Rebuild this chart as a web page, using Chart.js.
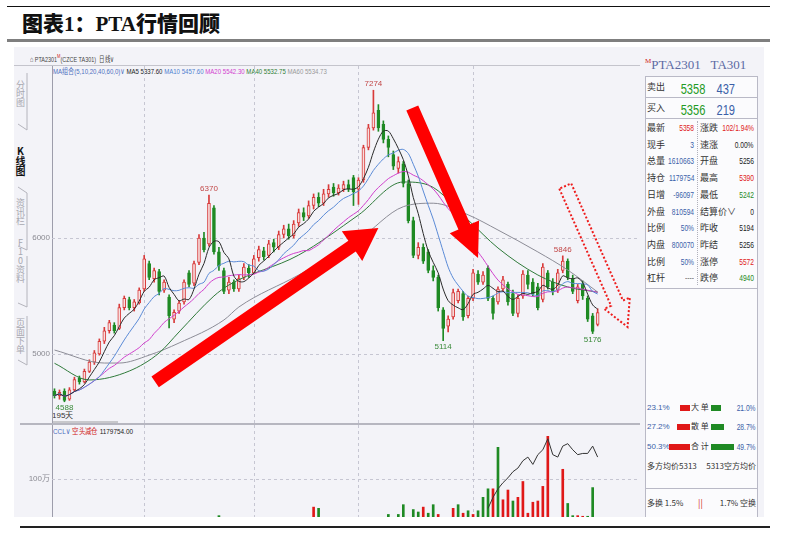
<!DOCTYPE html>
<html lang="zh-CN">
<head>
<meta charset="utf-8">
<title>图表1：PTA行情回顾</title>
<script src="https://cdn.jsdelivr.net/npm/chart.js@4.4.1/dist/chart.umd.min.js"></script>
<style>
  body { margin: 0; width: 799px; height: 546px; background: #fff; position: relative; overflow: hidden;
         font-family: "Noto Sans CJK SC", "Noto Sans", sans-serif; color: #333; }
  .a { position: absolute; white-space: nowrap; line-height: 1; }
  .num { font-family: "Liberation Sans", "DejaVu Sans", sans-serif; }
  .vt { writing-mode: vertical-rl; text-orientation: upright; font-size: 9px; color: #a8a8b0; }
  canvas { position: absolute; }
</style>
</head>
<body>
<!-- 标题栏 -->
<div class="a" style="left:7px;top:6px;width:763px;height:1px;background:#111"></div>
<div class="a" style="left:22px;top:12px;font-size:21px;font-weight:900;color:#111">图表<span style="font-family:'Liberation Serif'">1</span>：<span style="font-family:'Liberation Serif'">PTA</span>行情回顾</div>
<div class="a" style="left:7px;top:39px;width:763px;height:3px;background:#7f7f7f"></div>

<!-- 行情软件截图 -->
<div class="a" style="left:14px;top:47px;width:750px;height:470px;background:#f3f3f8"></div>
<div class="a" style="left:645px;top:76px;width:111px;height:441px;background:#fbfbfd;border-left:1px solid #b9b9c6;border-right:1px solid #b9b9c6"></div>
<div class="a" style="left:14px;top:65px;width:626px;height:1px;background:#c4c4cc"></div>
<div class="a" style="left:20px;top:423px;width:620px;height:2px;background:#b6b6c0"></div>
<div class="a" style="left:53px;top:421px;width:65px;height:2px;background:#c8c8cc"></div>

<!-- 左侧标签 -->
<svg class="a" style="left:0;top:0" width="40" height="420">
  <g stroke="#b4b4bc" stroke-width="1" fill="none">
    <polyline points="27,73 27,130 18,124"/>
    <polyline points="18,187 27,193 27,250 18,246"/>
    <polyline points="27,256 27,307 18,303"/>
    <polyline points="27,316 27,365 18,360"/>
  </g>
</svg>
<div class="a vt" style="left:16px;top:80px">分时图</div>
<div class="a vt" style="left:15px;top:146px;font-size:10px;color:#111;font-weight:700">K线图</div>
<div class="a vt" style="left:16px;top:198px">资讯栏</div>
<div class="a vt" style="left:16px;top:238px">F10资料</div>
<div class="a vt" style="left:16px;top:318px">页面下单</div>

<!-- 顶部工具栏与均线说明 -->
<div class="a num" id="toolbar" style="left:30px;top:53px;font-size:8px;color:#444">⌂ PTA2301<sup style="color:#d02020;font-size:6px">M</sup>(CZCE TA301)&nbsp; 日线∨</div>
<div class="a num" id="maLegend" style="left:53px;top:68px;font-size:8px">
  <span style="color:#4d6fc0">MA组合(5,10,20,40,60,0)∨</span>
  <span style="color:#222">MA5 5337.60</span>
  <span style="color:#4d7fd0">MA10 5457.60</span>
  <span style="color:#d23ccf">MA20 5542.30</span>
  <span style="color:#2e7d32">MA40 5532.75</span>
  <span style="color:#999">MA60 5534.73</span>
</div>
<div class="a num" id="cclLegend" style="left:53px;top:428px;font-size:8px">
  <span style="color:#4d6fc0">CCL∨</span>
  <span style="color:#d02020">空头减仓</span>
  <span style="color:#222">1179754.00</span>
</div>
<div class="a num" style="left:52px;top:412px;font-size:8px;color:#333">195天</div>

<canvas id="priceChart" width="620" height="357" style="left:20px;top:66px"></canvas>
<canvas id="oiChart" width="620" height="92" style="left:20px;top:425px"></canvas>

<!-- 右侧报价面板 -->
<div id="quote"></div>

<!-- 底线 -->
<div class="a" style="left:20px;top:526px;width:750px;height:2px;background:#222"></div>

<script>
// K线数据：开、高、低、收（逐日读取）
const opens = [4680, 4640, 4680, 4610, 4690, 4790, 4760, 4850, 4930, 5000,
  5110, 5200, 5250, 5220, 5400, 5470, 5400, 5440, 5560, 5780,
  5650, 5710, 5550, 5490, 5300, 5370, 5450, 5700, 5610, 5790,
  6000, 5950, 6260, 5880, 5720, 5550, 5620, 5560, 5660, 5740,
  5700, 5830, 5890, 5850, 5960, 5920, 6030, 6080, 6020, 6130,
  6220, 6190, 6280, 6350, 6300, 6380, 6440, 6390, 6420, 6460,
  6520, 6420, 6500, 6780, 6950, 7100, 6980, 6850, 6720, 6600,
  6640, 6470, 6150, 5850, 5920, 5880, 5720, 5660, 5380, 5240,
  5320, 5460, 5520, 5330, 5480, 5690, 5620, 5740, 5480, 5450,
  5560, 5600, 5520, 5350, 5500, 5680, 5620, 5580, 5470, 5700,
  5620, 5550, 5720, 5800, 5650, 5460, 5600, 5480, 5330, 5256];
const highs = [4700, 4690, 4700, 4710, 4800, 4810, 4870, 4950, 5030, 5130,
  5230, 5290, 5270, 5430, 5500, 5490, 5470, 5570, 5850, 5800,
  5740, 5730, 5640, 5510, 5380, 5460, 5640, 5720, 5800, 6030,
  6050, 6370, 6280, 5920, 5740, 5660, 5640, 5680, 5780, 5770,
  5850, 5930, 5920, 5980, 5990, 6060, 6110, 6120, 6150, 6250,
  6260, 6320, 6380, 6390, 6420, 6460, 6470, 6460, 6490, 6500,
  6540, 6520, 6800, 6980, 7274, 7150, 7010, 6880, 6750, 6700,
  6660, 6500, 6180, 5960, 5950, 5900, 5760, 5680, 5400, 5330,
  5560, 5560, 5540, 5500, 5730, 5720, 5710, 5760, 5500, 5580,
  5670, 5620, 5550, 5510, 5720, 5720, 5650, 5610, 5780, 5720,
  5650, 5730, 5846, 5820, 5680, 5600, 5630, 5500, 5350, 5390];
const lows = [4620, 4610, 4588, 4600, 4680, 4740, 4750, 4840, 4910, 4990,
  5090, 5180, 5180, 5210, 5380, 5380, 5370, 5430, 5540, 5640,
  5620, 5510, 5530, 5224, 5270, 5350, 5430, 5580, 5590, 5770,
  5880, 5930, 5860, 5720, 5520, 5520, 5540, 5540, 5640, 5660,
  5690, 5800, 5810, 5830, 5880, 5900, 6000, 5990, 6000, 6100,
  6150, 6170, 6250, 6270, 6280, 6350, 6360, 6370, 6400, 6400,
  6280, 6290, 6480, 6760, 6930, 6920, 6820, 6700, 6590, 6560,
  6440, 6130, 5830, 5820, 5780, 5700, 5630, 5370, 5114, 5190,
  5300, 5440, 5290, 5310, 5460, 5600, 5600, 5460, 5300, 5430,
  5540, 5420, 5330, 5320, 5480, 5560, 5500, 5380, 5450, 5560,
  5510, 5530, 5700, 5640, 5520, 5440, 5470, 5280, 5176, 5242];
const closes = [4640, 4670, 4600, 4690, 4780, 4760, 4850, 4930, 5010, 5110,
  5200, 5270, 5200, 5400, 5480, 5400, 5450, 5550, 5820, 5660,
  5720, 5540, 5620, 5330, 5360, 5440, 5620, 5600, 5780, 6000,
  5900, 6300, 5880, 5760, 5540, 5620, 5560, 5650, 5750, 5700,
  5820, 5900, 5840, 5950, 5920, 6030, 6080, 6020, 6120, 6220,
  6180, 6280, 6350, 6300, 6380, 6420, 6390, 6430, 6460, 6420,
  6400, 6500, 6780, 6950, 7080, 6950, 6850, 6780, 6620, 6660,
  6470, 6150, 5850, 5920, 5800, 5720, 5660, 5400, 5220, 5300,
  5530, 5540, 5320, 5480, 5700, 5620, 5680, 5480, 5350, 5560,
  5640, 5450, 5350, 5480, 5690, 5600, 5520, 5400, 5750, 5580,
  5540, 5700, 5800, 5660, 5540, 5580, 5500, 5300, 5194, 5358];

// 长周期均线：按图上读到的位置（K线序号 → 价格）
const ma40Idx = [0, 7, 15, 21, 25, 32, 35, 49, 61, 70, 75, 83, 89, 97, 103, 109];
const ma40Val = [4920, 4776, 4853, 5009, 5190, 5500, 5595, 5853, 6198, 6483, 6457, 6155, 5914, 5681, 5578, 5533];
const ma60Idx = [0, 10, 13, 19, 25, 34, 37, 49, 61, 70, 76, 83, 89, 97, 103, 109];
const ma60Val = [5034, 4922, 4922, 4990, 5095, 5293, 5405, 5681, 5983, 6270, 6300, 6200, 6069, 5880, 5724, 5534];

// 下方副图：柱（万手）与持仓线，只记录截图中露出的部分
const volRedIdx = [52, 74, 77, 80, 82, 84, 88, 90, 91, 93, 94, 95, 96, 97, 98, 99, 102, 105, 106];
const volRedVal = [77, 77, 71, 76, 72, 71, 92, 83, 91, 85, 98, 72, 81, 82, 94, 135, 108, 70, 69.5];
const volGreenIdx = [33, 53, 67, 69, 70, 72, 73, 75, 76, 81, 83, 85, 86, 87, 89, 92, 103, 104, 107, 108];
const volGreenVal = [70, 76, 71, 71, 79, 75, 73, 72, 79, 79, 74, 74, 85, 92, 126, 82, 80, 70, 69.5, 93];
const oiIdx = [87, 88, 89, 90, 91, 92, 93, 94, 95, 96, 97, 98, 99, 100, 101, 102, 103, 104, 105, 106, 107, 108, 109];
const oiVal = [76, 85, 92, 97, 101, 106, 109, 115, 118, 112, 120, 124, 133, 120, 118, 127, 129, 124, 120, 121, 121, 127, 118];

// 坐标刻度
const priceTicks = [5000, 6000];
const oiTicks = [100];
const monthBreaks = [18, 40, 61, 84];
const peakIdx = [31, 64, 102];
const troughIdx = [2, 78, 108];

const SLOT_COUNT = 118;
const slots = Array.from({ length: SLOT_COUNT }, (_, i) => i);

// 均线计算（前期不足周期时按已有K线平均）
function movingAvg(src, n) {
    return src.map((_, i) => {
        const part = src.slice(Math.max(0, i - n + 1), i + 1);
        return part.reduce((s, v) => s + v, 0) / part.length;
    });
}

function sparseSeries(idx, val, len) {
    const out = new Array(len).fill(null);
    idx.forEach((k, j) => { out[k] = val[j]; });
    return out;
}

const UP_LINE = '#d83a3a', UP_FILL = '#f7dede', DOWN = '#1f8a24';
const isUp = closes.map((c, i) => c >= opens[i]);

// 虚线网格
const dashGrid = {
    id: 'dashGrid',
    beforeDatasetsDraw(chart, args, opts) {
        const { ctx, chartArea: a, scales: { x, y } } = chart;
        ctx.save();
        ctx.strokeStyle = '#c6c6d2';
        ctx.lineWidth = 1;
        ctx.setLineDash([3, 3]);
        (opts.yValues || []).forEach(v => {
            const py = Math.round(y.getPixelForValue(v)) + 0.5;
            ctx.beginPath(); ctx.moveTo(a.left, py); ctx.lineTo(a.right, py); ctx.stroke();
        });
        (opts.xValues || []).forEach(v => {
            const px = Math.round(x.getPixelForValue(v)) + 0.5;
            ctx.beginPath(); ctx.moveTo(px, a.top); ctx.lineTo(px, a.bottom); ctx.stroke();
        });
        ctx.restore();
    }
};

function arrowPath(ctx, x0, y0, x1, y1, half, headLen, headHalf) {
    const len = Math.hypot(x1 - x0, y1 - y0);
    const ux = (x1 - x0) / len, uy = (y1 - y0) / len;
    const px = -uy, py = ux;
    const bx = x1 - ux * headLen, by = y1 - uy * headLen;
    ctx.beginPath();
    ctx.moveTo(x0 + px * half, y0 + py * half);
    ctx.lineTo(bx + px * half, by + py * half);
    ctx.lineTo(bx + px * headHalf, by + py * headHalf);
    ctx.lineTo(x1, y1);
    ctx.lineTo(bx - px * headHalf, by - py * headHalf);
    ctx.lineTo(bx - px * half, by - py * half);
    ctx.lineTo(x0 - px * half, y0 - py * half);
    ctx.closePath();
}

// 最高/最低价标注与趋势箭头
const klineMarks = {
    id: 'klineMarks',
    afterDatasetsDraw(chart, args, opts) {
        const { ctx, scales: { x, y } } = chart;
        ctx.save();
        ctx.font = '8px "Liberation Sans", sans-serif';
        ctx.textAlign = 'center';
        ctx.fillStyle = '#c24848';
        ctx.textBaseline = 'bottom';
        peakIdx.forEach(i => ctx.fillText(String(highs[i]), x.getPixelForValue(i), y.getPixelForValue(highs[i]) - 2));
        ctx.fillStyle = '#3a8a3a';
        ctx.textBaseline = 'top';
        troughIdx.forEach(i => ctx.fillText(String(lows[i]), x.getPixelForValue(i), y.getPixelForValue(lows[i]) + 2));

        opts.arrows.forEach(ar => {
            const x0 = x.getPixelForValue(ar.from[0]), y0 = y.getPixelForValue(ar.from[1]);
            const x1 = x.getPixelForValue(ar.to[0]), y1 = y.getPixelForValue(ar.to[1]);
            arrowPath(ctx, x0, y0, x1, y1, 6.5, ar.headLen, ar.headHalf);
            if (ar.dotted) {
                ctx.setLineDash([2, 2]);
                ctx.lineWidth = 2;
                ctx.strokeStyle = '#ee1c1c';
                ctx.stroke();
                ctx.setLineDash([]);
            } else {
                ctx.fillStyle = '#ff0000';
                ctx.fill();
            }
        });
        ctx.restore();
    }
};

function yAxis(min, max, ticks, fmt) {
    return {
        min: min, max: max,
        grid: { display: false, drawTicks: false },
        border: { display: true, color: '#9d9dab', width: 1 },
        afterBuildTicks: s => { s.ticks = ticks.map(v => ({ value: v })); },
        afterFit: s => { s.width = 32; s.paddingTop = 0; s.paddingBottom = 0; },
        ticks: { color: '#8a8a92', padding: 2, font: { size: 8, family: 'Liberation Sans' }, callback: fmt }
    };
}

// 主图：K线 + 均线
new Chart(document.getElementById('priceChart'), {
    type: 'bar',
    data: {
        labels: slots,
        datasets: [
            { label: 'MA5', type: 'line', data: movingAvg(closes, 5), borderColor: '#2a2a2a', borderWidth: 1, pointRadius: 0, tension: 0.3, order: 1 },
            { label: 'MA10', type: 'line', data: movingAvg(closes, 10), borderColor: '#5a8ad6', borderWidth: 1, pointRadius: 0, tension: 0.3, order: 1 },
            { label: 'MA20', type: 'line', data: movingAvg(closes, 20), borderColor: '#d040cc', borderWidth: 1, pointRadius: 0, tension: 0.3, order: 1 },
            { label: 'MA40', type: 'line', data: sparseSeries(ma40Idx, ma40Val, closes.length), spanGaps: true, cubicInterpolationMode: 'monotone', borderColor: '#2f7a3a', borderWidth: 1, pointRadius: 0, order: 1 },
            { label: 'MA60', type: 'line', data: sparseSeries(ma60Idx, ma60Val, closes.length), spanGaps: true, cubicInterpolationMode: 'monotone', borderColor: '#8c8c96', borderWidth: 1, pointRadius: 0, order: 1 },
            { label: 'body', data: opens.map((o, i) => [o, closes[i]]),
              backgroundColor: isUp.map(u => u ? UP_FILL : DOWN), borderColor: isUp.map(u => u ? UP_LINE : DOWN),
              borderWidth: 1, borderSkipped: false, barThickness: 3, grouped: false, order: 2 },
            { label: 'wick', data: lows.map((l, i) => [l, highs[i]]),
              backgroundColor: isUp.map(u => u ? UP_LINE : DOWN), barThickness: 1, grouped: false, order: 3 }
        ]
    },
    options: {
        responsive: false, animation: false, devicePixelRatio: 1,
        layout: { padding: 0 },
        plugins: {
            legend: { display: false }, tooltip: { enabled: false },
            dashGrid: { yValues: priceTicks, xValues: monthBreaks },
            klineMarks: {
                arrows: [
                    { from: [20.2, 4759], to: [65, 6086], headLen: 32, headHalf: 18 },
                    { from: [71.8, 7121], to: [85, 5828], headLen: 34, headHalf: 16 },
                    { from: [102.5, 6448], to: [115, 5233], headLen: 26, headHalf: 14, dotted: true }
                ]
            }
        },
        scales: {
            x: { display: false, offset: true },
            y: yAxis(4405, 7483, priceTicks, v => String(v))
        }
    },
    plugins: [dashGrid, klineMarks]
});

// 副图：CCL 柱与持仓线
new Chart(document.getElementById('oiChart'), {
    type: 'bar',
    data: {
        labels: slots,
        datasets: [
            { label: '持仓', type: 'line', data: sparseSeries(oiIdx, oiVal, closes.length), borderColor: '#333', borderWidth: 1, pointRadius: 0, tension: 0, order: 1 },
            { label: '增', data: sparseSeries(volRedIdx, volRedVal, closes.length), backgroundColor: '#e01818', barThickness: 2, grouped: false, order: 2 },
            { label: '减', data: sparseSeries(volGreenIdx, volGreenVal, closes.length), backgroundColor: '#1f8a24', barThickness: 2, grouped: false, order: 2 }
        ]
    },
    options: {
        responsive: false, animation: false, devicePixelRatio: 1,
        layout: { padding: 0 },
        plugins: { legend: { display: false }, tooltip: { enabled: false }, dashGrid: { yValues: oiTicks, xValues: monthBreaks } },
        scales: {
            x: { display: false, offset: true },
            y: yAxis(68.9, 144.3, oiTicks, v => v + '万')
        }
    },
    plugins: [dashGrid]
});

// 文字压窄到截图中的宽度
function squeeze(id, w) {
    const el = document.getElementById(id);
    const k = w / el.getBoundingClientRect().width;
    el.style.transformOrigin = 'left top';
    el.style.transform = 'scaleX(' + k.toFixed(3) + ')';
}
squeeze('maLegend', 274);
squeeze('cclLegend', 80);
squeeze('toolbar', 84);

// 右侧报价面板
const quoteRows = [
    ['最新', '5358', '#e02020', '涨跌', '102/1.94%', '#e02020'],
    ['现手', '3', '#3a5fa8', '速涨', '0.00%', '#222'],
    ['总量', '1610663', '#3a5fa8', '开盘', '5256', '#222'],
    ['持仓', '1179754', '#3a5fa8', '最高', '5390', '#e02020'],
    ['日增', '-96097', '#3a5fa8', '最低', '5242', '#1f8a24'],
    ['外盘', '810594', '#3a5fa8', '结算价∨', '0', '#222'],
    ['比例', '50%', '#3a5fa8', '昨收', '5194', '#222'],
    ['内盘', '800070', '#3a5fa8', '昨结', '5256', '#222'],
    ['比例', '50%', '#3a5fa8', '涨停', '5572', '#e02020'],
    ['杠杆', '----', '#666', '跌停', '4940', '#1f8a24']
];

function put(html, style) {
    const d = document.createElement('div');
    d.className = 'a';
    d.style.cssText = style;
    d.innerHTML = html;
    document.getElementById('quote').appendChild(d);
    return d;
}
function numRight(txt, right, top, size, color) {
    put(txt, `right:${799 - right}px;top:${top}px;font-size:${size}px;color:${color};font-family:'Liberation Sans';transform:scaleX(.74);transform-origin:right center;`);
}

put('<span style="color:#d02020;font-size:7px;vertical-align:top">M</span>PTA2301&nbsp;&nbsp;&nbsp;TA301', 'left:645px;top:58px;font-size:13px;color:#5b6aa3;font-family:"Liberation Serif";');
put('', 'left:645px;top:97px;width:112px;height:1px;background:#b9b9c6');
put('', 'left:645px;top:76px;width:112px;height:1px;background:#b9b9c6');
put('', 'left:645px;top:118px;width:112px;height:1px;background:#b9b9c6');
put('', 'left:645px;top:288px;width:112px;height:1px;background:#b9b9c6');
put('', 'left:645px;top:488px;width:112px;height:1px;background:#b9b9c6');
put('', 'left:697px;top:121px;width:0;height:164px;border-left:1px dotted #b0b0bb');

put('卖出', 'left:647px;top:82px;font-size:9px;color:#333');
put('买入', 'left:647px;top:103px;font-size:9px;color:#333');
numRight('5358', 705, 81, 15, '#1f9a24');
numRight('437', 735, 81, 15, '#3a5fa8');
numRight('5356', 705, 102, 15, '#1f9a24');
numRight('219', 735, 102, 15, '#3a5fa8');

quoteRows.forEach((r, k) => {
    const top = Math.round(123 + k * 16.7);
    put(r[0], `left:647px;top:${top}px;font-size:9px;color:#333`);
    numRight(r[1], 694, top + 1, 9, r[2]);
    put(r[3], `left:700px;top:${top}px;font-size:9px;color:#333`);
    numRight(r[4], 754, top + 1, 9, r[5]);
});

// 大单 / 散单 / 合计
const flowRows = [
    ['23.1%', 680, '大 单', 721, '21.0%', 403],
    ['27.2%', 677, '散 单', 724, '28.7%', 422],
    ['50.3%', 669, '合 计', 734, '49.7%', 442]
];
flowRows.forEach(r => {
    put(r[0], `left:647px;top:${r[5] + 1}px;font-size:8px;color:#3a5fa8;font-family:'Liberation Sans';`);
    put('', `left:${r[1]}px;top:${r[5] + 2}px;width:${690 - r[1]}px;height:6px;background:#e01818`);
    put(r[2], `left:691px;top:${r[5]}px;font-size:8px;color:#333`);
    put('', `left:711px;top:${r[5] + 2}px;width:${r[3] - 711}px;height:6px;background:#1f8a24`);
    numRight(r[4], 756, r[5] + 1, 9, '#3a5fa8');
});
put('多方均价5313', 'left:647px;top:462px;font-size:8px;color:#333');
put('5313空方均价', 'right:43px;top:462px;font-size:8px;color:#333');
put('多换 1.5%', 'left:647px;top:499px;font-size:8px;color:#333');
put('||', 'left:698px;top:499px;font-size:9px;color:#d02020');
put('1.7% 空换', 'right:43px;top:499px;font-size:8px;color:#333');
</script>
</body>
</html>
